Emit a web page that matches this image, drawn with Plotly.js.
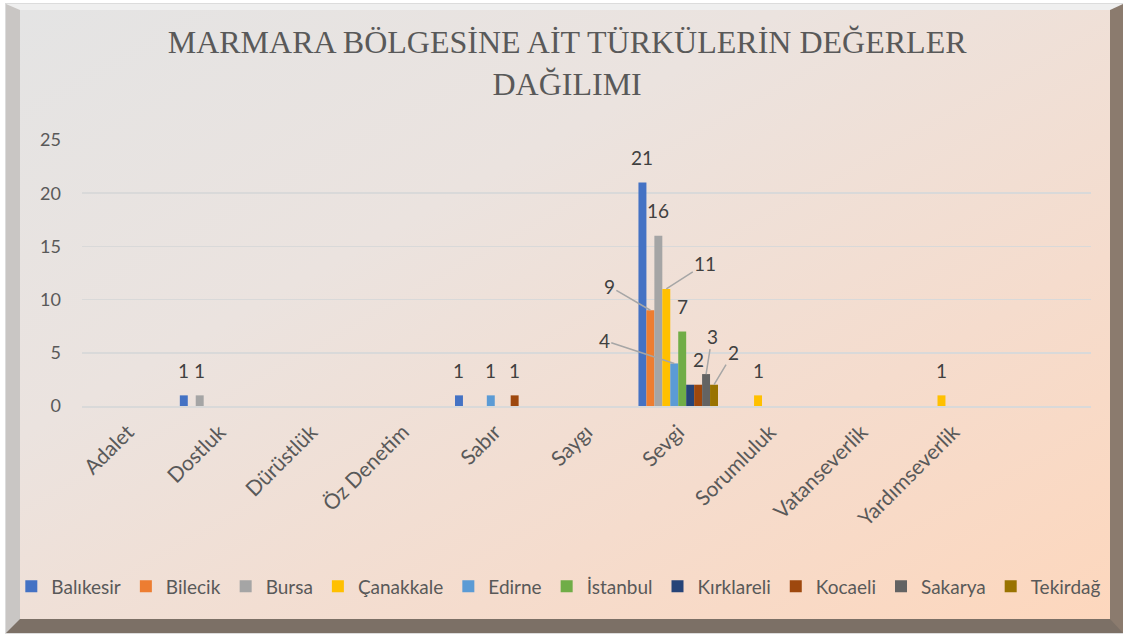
<!DOCTYPE html>
<html>
<head>
<meta charset="utf-8">
<script src="https://cdn.plot.ly/plotly-3.0.1.min.js"></script>
<style>
  html, body { margin: 0; padding: 0; background: #ffffff; }
  #frame {
    position: absolute; left: 6px; top: 4px; width: 1117px; height: 629px;
    box-sizing: border-box;
    border-top: 6px solid #efefef;
    border-left: 14px solid #c9c6c4;
    border-right: 13px solid #8b7b6e;
    border-bottom: 14px solid #7c7066;
    background: linear-gradient(to bottom right, #e4e4e4 0%, #ebe3df 35%, #f5dccd 70%, #fdd7bd 100%);
    box-shadow: 0 0 0 1px #dcdcdc;
  }
  #chart { position: absolute; left: 0; top: 0; width: 1123px; height: 637px; }
</style>
</head>
<body>
<div id="frame"></div>
<div id="chart"></div>
<script>
// ---- data ----
const categories = ["Adalet", "Dostluk", "Dürüstlük", "Öz Denetim", "Sabır", "Saygı", "Sevgi", "Sorumluluk", "Vatanseverlik", "Yardımseverlik"];
const seriesNames = ["Balıkesir", "Bilecik", "Bursa", "Çanakkale", "Edirne", "İstanbul", "Kırklareli", "Kocaeli", "Sakarya", "Tekirdağ"];
const balikesir  = [null, 1, null, null, 1, null, 21, null, null, null];
const bilecik    = [null, null, null, null, null, null, 9, null, null, null];
const bursa      = [null, 1, null, null, null, null, 16, null, null, null];
const canakkale  = [null, null, null, null, null, null, 11, 1, null, 1];
const edirne     = [null, null, null, null, 1, null, 4, null, null, null];
const istanbul   = [null, null, null, null, null, null, 7, null, null, null];
const kirklareli = [null, null, null, null, null, null, 2, null, null, null];
const kocaeli    = [null, null, null, null, 1, null, 2, null, null, null];
const sakarya    = [null, null, null, null, null, null, 3, null, null, null];
const tekirdag   = [null, null, null, null, null, null, 2, null, null, null];
const seriesValues = [balikesir, bilecik, bursa, canakkale, edirne, istanbul, kirklareli, kocaeli, sakarya, tekirdag];
const yTicks = [0, 5, 10, 15, 20, 25];

// ---- style ----
const colors = ["#4472C4", "#ED7D31", "#A5A5A5", "#FFC000", "#5B9BD5", "#70AD47", "#264478", "#9E480E", "#636363", "#997300"];
const FONT = "Lato, 'Open Sans', sans-serif";
const W = 1123, H = 637;
const margin = {l: 81, r: 32, t: 140, b: 231, pad: 0};
const nSlots = 11;           // axis has room for one more (empty) category
const bargap = 0.133;
const slotPx = (W - margin.l - margin.r) / nSlots;
const barPx = slotPx * (1 - bargap) / seriesNames.length;

// Leader-line labels moved in the original (Sevgi group)
const movedLabels = {
  "Sevgi": {
    "Bilecik":   [-41, -24],
    "Çanakkale": [39, -25],
    "Edirne":    [-70, -23],
    "Sakarya":   [6, -38],
    "Tekirdağ":  [19, -32]
  }
};
const hiddenLabels = {"Sevgi": ["Kırklareli"]};

const traces = seriesNames.map((name, i) => ({
  type: "bar",
  name: name,
  x: categories,
  y: seriesValues[i],
  marker: {color: colors[i]},
  hoverinfo: "x+y+name"
}));

const annotations = [];
seriesNames.forEach((name, i) => {
  seriesValues[i].forEach((v, j) => {
    if (v === null) return;
    const cat = categories[j];
    if (hiddenLabels[cat] && hiddenLabels[cat].includes(name)) return;
    const xs = (i - (seriesNames.length - 1) / 2) * barPx;
    const moved = movedLabels[cat] && movedLabels[cat][name];
    if (moved) {
      annotations.push({
        x: cat, y: v, xref: "x", yref: "y", xshift: xs,
        text: String(v), showarrow: true, arrowhead: 0, arrowwidth: 1.5,
        arrowcolor: "#a6a6a6", ax: moved[0], ay: moved[1], standoff: 0,
        font: {family: FONT, size: 19, color: "#404040"}
      });
    } else {
      annotations.push({
        x: cat, y: v, xref: "x", yref: "y", xshift: xs, yshift: 25,
        text: String(v), showarrow: false,
        font: {family: FONT, size: 19, color: "#404040"}
      });
    }
  });
});

const layout = {
  width: W, height: H,
  paper_bgcolor: "rgba(0,0,0,0)",
  plot_bgcolor: "rgba(0,0,0,0)",
  margin: margin,
  barmode: "group",
  bargap: bargap,
  bargroupgap: 0,
  title: {
    text: "MARMARA BÖLGESİNE AİT TÜRKÜLERİN DEĞERLER<br>DAĞILIMI",
    font: {family: "'Liberation Serif', 'Times New Roman', serif", size: 32, color: "#595959"},
    xref: "container", yref: "container", x: 0.505, xanchor: "center",
    y: 1 - 53 / H, yanchor: "top"
  },
  xaxis: {
    type: "category",
    range: [-0.5, nSlots - 0.5],
    tickangle: -45,
    ticks: "",
    showgrid: false,
    showline: true, linecolor: "#d9d9d9", linewidth: 1.5,
    ticklabelstandoff: 4,
    tickfont: {family: FONT, size: 21, color: "#595959"},
    fixedrange: true
  },
  yaxis: {
    range: [0, 25],
    tickvals: yTicks,
    ticks: "",
    showgrid: true, gridcolor: "#d9d9d9", gridwidth: 1.5,
    zeroline: false, showline: false,
    ticklabelstandoff: 20,
    tickfont: {family: FONT, size: 18, color: "#595959"},
    fixedrange: true
  },
  showlegend: true,
  legend: {
    orientation: "h",
    x: -0.069, xanchor: "left",
    y: -0.678, yanchor: "middle",
    font: {family: FONT, size: 19, color: "#595959"},
    itemwidth: 30,
    traceorder: "normal",
    bgcolor: "rgba(0,0,0,0)"
  },
  annotations: annotations
};

Plotly.newPlot("chart", traces, layout, {displayModeBar: false, staticPlot: true});
</script>
</body>
</html>
